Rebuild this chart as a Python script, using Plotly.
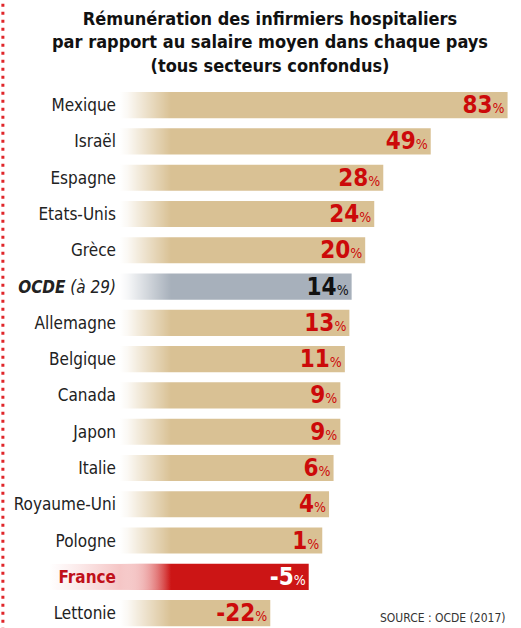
import plotly.graph_objects as go

# ---- data ----
countries = ["Mexique", "Israël", "Espagne", "Etats-Unis", "Grèce", "OCDE (à 29)",
             "Allemagne", "Belgique", "Canada", "Japon", "Italie", "Royaume-Uni",
             "Pologne", "France", "Lettonie"]
values = [83, 49, 28, 24, 20, 14, 13, 11, 9, 9, 6, 4, 1, -5, -22]
highlight_avg = "OCDE (à 29)"
highlight_fr = "France"

title_lines = ["Rémunération des infirmiers hospitaliers",
               "par rapport au salaire moyen dans chaque pays",
               "(tous secteurs confondus)"]
source_text = "SOURCE : OCDE (2017)"

# ---- styling ----
FAM = "Liberation Sans Narrow, DejaVu Sans Condensed, sans-serif"
def F(size, color, weight="normal"):
    return dict(family=FAM, size=size, color=color, weight=weight)

TAN = "#d9c194"
GREY = "#a7b0bb"
RED = "#cc1515"
VAL_RED = "#cc0a0a"
PINK = "%23f5c6c6"
X_MIN, X_MAX = -88.5, 85.4
BAR_W = 0.72

n = len(countries)
ypos = list(range(n))

bar_colors, text_colors, tick_text, texts = [], [], [], []
for c, v in zip(countries, values):
    if c == highlight_avg:
        bar_colors.append(GREY); text_colors.append("#111111")
        tick_text.append("<b><i>OCDE</i></b><i> (à 29)</i>")
    elif c == highlight_fr:
        bar_colors.append(RED); text_colors.append("#ffffff")
        tick_text.append("<b><span style='color:#c0101a'>France</span></b>")
    else:
        bar_colors.append(TAN); text_colors.append(VAL_RED)
        tick_text.append(c)
    texts.append(f"<b>{v}</b><span style='font-size:14px'>%</span>")

fig = go.Figure()
fig.add_trace(go.Bar(
    y=ypos,
    x=[v - X_MIN for v in values],
    base=[X_MIN] * n,
    orientation="h",
    width=BAR_W,
    marker=dict(color=bar_colors, line=dict(width=0)),
    text=texts,
    textposition="inside",
    insidetextanchor="end",
    constraintext="none",
    textangle=0,
    textfont=F(24, text_colors),
    hoverinfo="skip",
))

def grad(color, op0, op1, mid=0.15, opm=0.9):
    return ("data:image/svg+xml;utf8,"
            "<svg xmlns='http://www.w3.org/2000/svg' width='100' height='100' preserveAspectRatio='none'>"
            "<defs><linearGradient id='g' x1='0' y1='0' x2='1' y2='0'>"
            f"<stop offset='0' stop-color='{color}' stop-opacity='{op0}'/>"
            f"<stop offset='{mid}' stop-color='{color}' stop-opacity='{opm}'/>"
            f"<stop offset='1' stop-color='{color}' stop-opacity='{op1}'/>"
            "</linearGradient></defs>"
            "<rect width='100' height='100' fill='url(%23g)'/></svg>")

fr_idx = countries.index(highlight_fr)

# white fade over the start of the bars
fig.add_layout_image(dict(source=grad("white", 1, 0), xref="paper", yref="paper",
                          x=0, y=1, sizex=0.13, sizey=1, sizing="stretch",
                          xanchor="left", yanchor="top", layer="above"))
# pink fade for the France bar (on top of the white fade)
fig.add_layout_image(dict(source=grad(PINK, 1, 0, 0.3, 0.8), xref="paper", yref="y",
                          x=0, y=fr_idx, sizex=0.13, sizey=BAR_W, sizing="stretch",
                          xanchor="left", yanchor="middle", layer="above"))
# light pink glow behind the France label
fig.add_layout_image(dict(source=grad(PINK, 0, 1, 0.4, 0.35), xref="paper", yref="y",
                          x=-0.18, y=fr_idx, sizex=0.18, sizey=BAR_W, sizing="stretch",
                          xanchor="left", yanchor="middle", layer="below"))

# decorative red dotted line on the left edge
fig.add_shape(type="line", xref="paper", yref="paper",
              x0=-0.298, x1=-0.298, y0=-0.02, y1=1.2,
              line=dict(color="#e0262a", width=3, dash="3px,5px"))

# title
fig.add_annotation(text="<br>".join(title_lines), xref="paper", yref="paper",
                   x=0.382, y=1.083, xanchor="center", yanchor="middle",
                   showarrow=False, align="center",
                   font=F(18, "#111111", "bold"))
# source
fig.add_annotation(text=source_text, xref="paper", yref="paper",
                   x=0.987, y=0.018, xanchor="right", yanchor="middle",
                   showarrow=False, font=F(12, "#333333"))

fig.update_layout(
    width=521, height=628,
    margin=dict(l=120, r=8, t=87, b=0),
    paper_bgcolor="white", plot_bgcolor="white",
    showlegend=False,
    xaxis=dict(range=[X_MIN, X_MAX], visible=False, fixedrange=True),
    yaxis=dict(range=[14.41, -0.5], tickvals=ypos, ticktext=tick_text,
               showgrid=False, zeroline=False, showline=False, ticks="",
               ticklabelstandoff=3, tickfont=F(17, "#222222"), fixedrange=True),
)

fig.write_html("out.html", config={"displayModeBar": False},
               post_script="document.body.style.margin='0';document.body.style.overflow='hidden';")
